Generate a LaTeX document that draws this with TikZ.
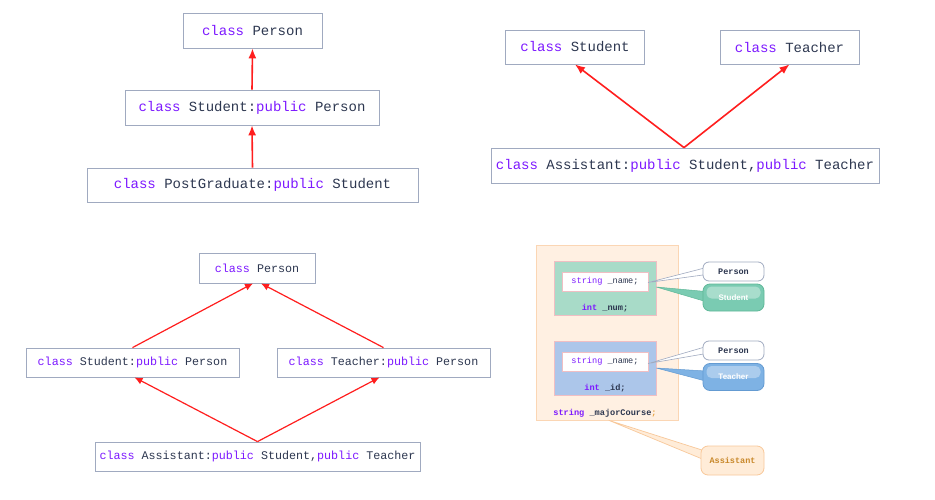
\documentclass[tikz,border=0pt]{standalone}
\usepackage{fontspec}
\setmonofont{Liberation Mono}
\setsansfont{Liberation Sans}
\usetikzlibrary{arrows.meta,calc}
\definecolor{kwc}{RGB}{125,25,255}
\definecolor{txtc}{RGB}{45,55,80}
\definecolor{boxc}{RGB}{160,170,192}
\definecolor{arrc}{RGB}{255,30,30}
\definecolor{orbg}{RGB}{255,240,226}
\definecolor{orbd}{RGB}{251,214,180}
\definecolor{grbg}{RGB}{168,219,200}
\definecolor{blbg}{RGB}{172,198,234}
\definecolor{pinkbd}{RGB}{240,190,195}
\definecolor{stc}{RGB}{122,203,178}
\definecolor{stbd}{RGB}{95,184,152}
\definecolor{tcc}{RGB}{126,178,228}
\definecolor{tcbd}{RGB}{100,155,210}
\definecolor{asfill}{RGB}{255,236,216}
\definecolor{asbd}{RGB}{248,200,154}
\definecolor{astxt}{RGB}{200,136,42}
\definecolor{semic}{RGB}{230,160,60}
\newcommand\kw[1]{\textcolor{kwc}{#1}}
\begin{document}
\begin{tikzpicture}[x=1pt,y=-1pt,
  clsbig/.style={draw=boxc, fill=white, line width=0.8pt, inner sep=0pt,
    text=txtc, font=\ttfamily\fontsize{14}{16}\selectfont},
  clssmall/.style={draw=boxc, fill=white, line width=0.8pt, inner sep=0pt,
    text=txtc, font=\ttfamily\fontsize{11.7}{13}\selectfont},
  inh/.style={draw=arrc, line width=1.6pt, -{Latex[length=10pt,width=8pt]}},
  inhs/.style={draw=arrc, line width=1.2pt, -{Latex[length=8pt,width=7pt]}},
  memb/.style={draw=pinkbd, line width=0.6pt, minimum width=102pt, minimum height=54pt, inner sep=0pt},
  whitebox/.style={draw=pinkbd, fill=white, line width=0.5pt, minimum width=86pt, minimum height=19pt, inner sep=0pt,
    text=txtc, font=\ttfamily\fontsize{8.6}{10}\selectfont},
  code/.style={text=txtc, inner sep=0pt, font=\ttfamily\bfseries\fontsize{8.6}{10}\selectfont},
  pcall/.style={draw=boxc, fill=white, line width=0.8pt, rounded corners=6pt, minimum width=61pt, minimum height=19pt,
    inner sep=0pt, text=txtc, font=\ttfamily\bfseries\fontsize{8.5}{10}\selectfont},
  ccall/.style={line width=0.8pt, rounded corners=7pt, minimum width=61pt, minimum height=27pt,
    inner sep=0pt, text=white, font=\sffamily\bfseries\fontsize{8}{10}\selectfont},
]
\useasboundingbox (0,0) rectangle (935,500);
\fill[white] (0,0) rectangle (935,500);

% ---- top left
\node[clsbig, minimum width=139pt, minimum height=35pt] (A1) at (252.5,30.5) {\kw{class} Person};
\node[clsbig, minimum width=254pt, minimum height=35pt] (A2) at (252,107.5) {\kw{class} Student:\kw{public} Person};
\node[clsbig, minimum width=331pt, minimum height=34pt] (A3) at (252.5,185) {\kw{class} PostGraduate:\kw{public} Student};
\draw[inh] (A2.north) -- (A1.south);
\draw[inh] (A3.north) -- (A2.south);

% ---- top right
\node[clsbig, minimum width=139pt, minimum height=34pt] (B1) at (575,47) {\kw{class} Student};
\node[clsbig, minimum width=139pt, minimum height=34pt] (B2) at (789.5,47) {\kw{class} Teacher};
\node[clsbig, minimum width=388pt, minimum height=35pt] (B3) at (685,165.5) {\kw{class} Assistant:\kw{public} Student,\kw{public} Teacher};
\draw[inh] ([xshift=-1pt]B3.north) -- (B1.south);
\draw[inh] ([xshift=-1pt]B3.north) -- (B2.south);

% ---- bottom left
\node[clssmall, minimum width=116pt, minimum height=30pt] (C1) at (257,268) {\kw{class} Person};
\node[clssmall, minimum width=213pt, minimum height=29pt] (C2) at (132.5,362.5) {\kw{class} Student:\kw{public} Person};
\node[clssmall, minimum width=213pt, minimum height=29pt] (C3) at (383.5,362.5) {\kw{class} Teacher:\kw{public} Person};
\node[clssmall, minimum width=325pt, minimum height=29pt] (C4) at (257.5,456.5) {\kw{class} Assistant:\kw{public} Student,\kw{public} Teacher};
\draw[inhs] (C2.north) -- ([xshift=-4pt]C1.south);
\draw[inhs] (C3.north) -- ([xshift=4pt]C1.south);
\draw[inhs] (C4.north) -- ([xshift=2pt]C2.south);
\draw[inhs] (C4.north) -- ([xshift=-4pt]C3.south);

% ---- bottom right: memory layout
\node[draw=orbd, fill=orbg, line width=0.8pt, minimum width=142pt, minimum height=175pt, inner sep=0pt] (AS) at (607,332.5) {};
\node[memb, fill=grbg] (G) at (605,288) {};
\node[whitebox] (GW) at (605,281.5) {\kw{string} \_name;};
\node[code] (GN) at (605,308) {\kw{int} \_num;};
\node[memb, fill=blbg] (BL) at (605,368) {};
\node[whitebox] (BW) at (605,361.5) {\kw{string} \_name;};
\node[code] (BI) at (605,388) {\kw{int} \_id;};
\node[code] (MC) at (605,413) {\kw{string} \_majorCourse\textcolor{semic}{;}};

% callouts
\coordinate (P1pos) at (733.5,271.5);
\coordinate (S1pos) at (733.5,297.5);
\coordinate (P2pos) at (733.5,350.5);
\coordinate (T1pos) at (733.5,377);
\coordinate (A1pos) at (732.5,460.5);

% pointers
\draw[draw=boxc, fill=white, line width=0.6pt, line join=round]
  ([yshift=-1pt]GW.east) -- ($(P1pos)+(-27,-4)$) -- ($(P1pos)+(-27,3)$) -- cycle;
\draw[draw=stbd, fill=stc, line width=0.5pt, line join=round]
  ([yshift=1pt]G.east) -- ($(S1pos)+(-28,-6)$) -- ($(S1pos)+(-28,4)$) -- cycle;
\draw[draw=boxc, fill=white, line width=0.6pt, line join=round]
  ([yshift=-2pt]BW.east) -- ($(P2pos)+(-27,-4)$) -- ($(P2pos)+(-27,3)$) -- cycle;
\draw[draw=tcbd, fill=tcc, line width=0.5pt, line join=round]
  ([yshift=0pt]BL.east) -- ($(T1pos)+(-28,-6)$) -- ($(T1pos)+(-28,4)$) -- cycle;
\draw[draw=asbd, fill=asfill, line width=0.7pt, line join=round]
  ([xshift=2pt]AS.south) -- ($(A1pos)+(-29,-10)$) -- ($(A1pos)+(-29,-1)$) -- cycle;

\node[pcall] (P1) at (P1pos) {Person};
\node[ccall, draw=stbd, fill=stc] (S1) at (S1pos) {};
\fill[white, opacity=0.35, rounded corners=5pt] ($(S1pos)+(-27,-11)$) rectangle ($(S1pos)+(27,1)$);
\node[text=white, font=\sffamily\bfseries\fontsize{8}{10}\selectfont, inner sep=0pt] at (S1pos) {Student};
\node[pcall] (P2) at (P2pos) {Person};
\node[ccall, draw=tcbd, fill=tcc] (T1) at (T1pos) {};
\fill[white, opacity=0.35, rounded corners=5pt] ($(T1pos)+(-27,-11)$) rectangle ($(T1pos)+(27,1)$);
\node[text=white, font=\sffamily\bfseries\fontsize{8}{10}\selectfont, inner sep=0pt] at (T1pos) {Teacher};
\node[draw=asbd, fill=asfill, line width=0.8pt, rounded corners=7pt, minimum width=63pt, minimum height=29pt,
  inner sep=0pt, text=astxt, font=\ttfamily\bfseries\fontsize{8.5}{10}\selectfont] (A1c) at (A1pos) {Assistant};
\end{tikzpicture}
\end{document}
